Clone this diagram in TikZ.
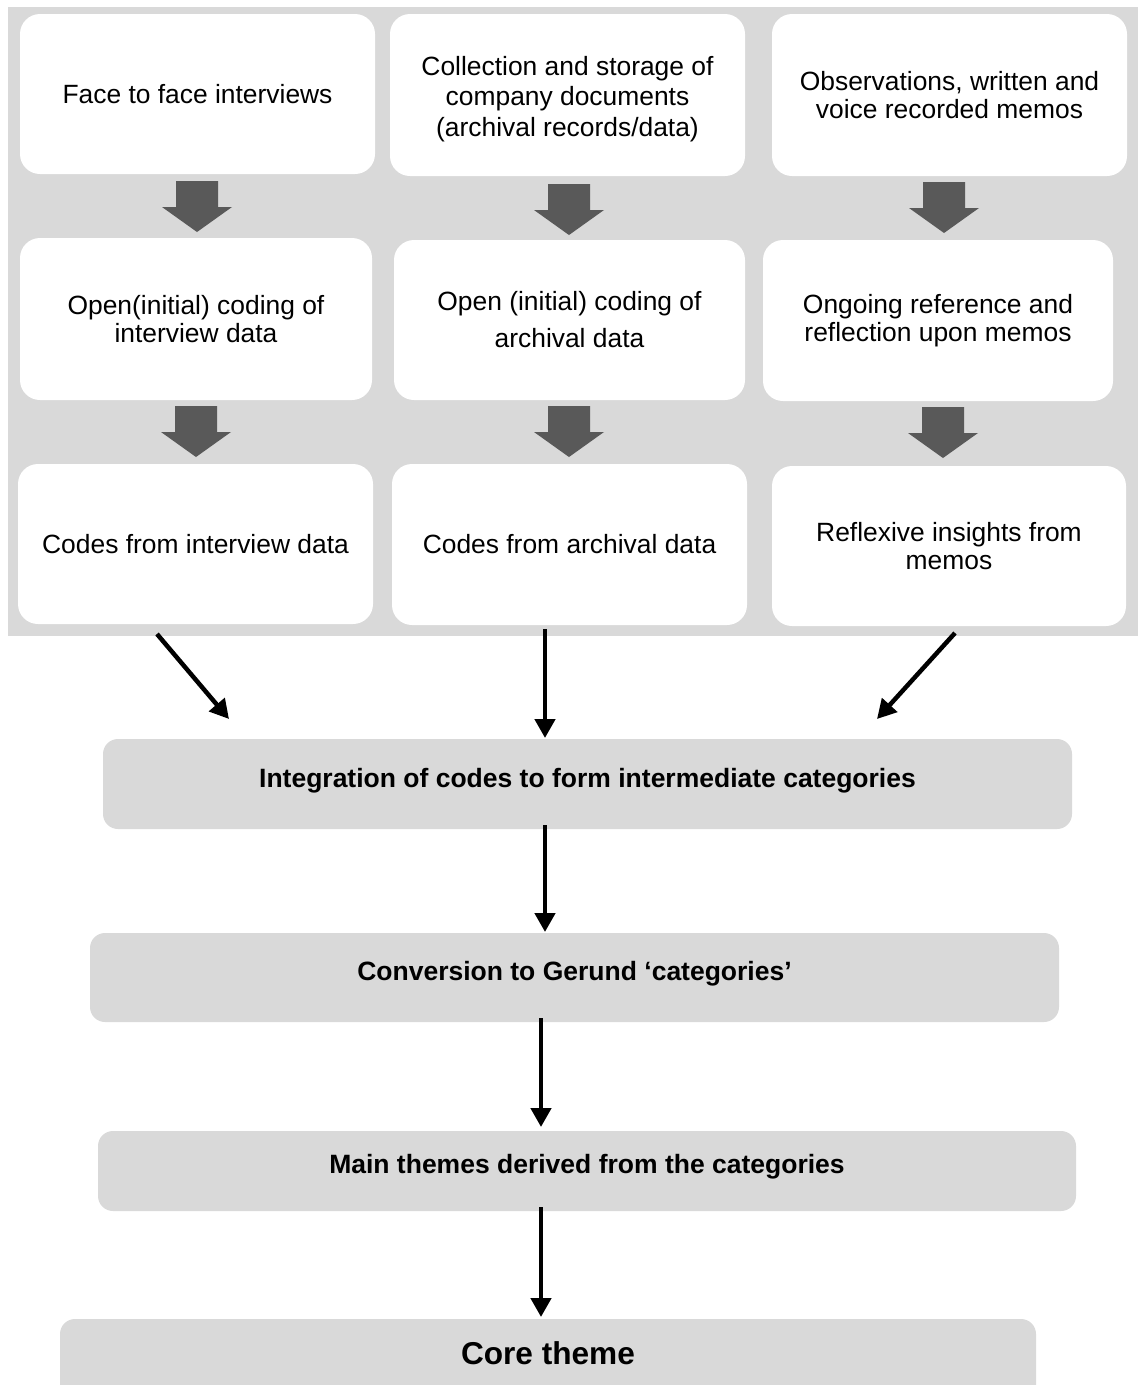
\documentclass[tikz,border=0pt]{standalone}
\usepackage{fontspec}
\setmainfont{Liberation Sans}
\usetikzlibrary{arrows.meta}
\definecolor{panelgray}{HTML}{D9D9D9}
\definecolor{blockgray}{HTML}{595959}
\tikzset{
  whitebox/.style={rectangle, rounded corners=20pt, fill=white, draw=none, inner sep=0pt,
    align=center, font=\fontsize{26.4}{28}\selectfont},
  graybox/.style={rectangle, rounded corners=15pt, fill=panelgray, draw=none, inner sep=0pt,
    align=center, font=\bfseries\fontsize{26.5}{30}\selectfont},
  conn/.style={draw=black, line width=4.5pt, -{Triangle[length=19pt,width=20pt]}},
  blkarrow/.pic={
    \fill[blockgray] (-21,0) -- (21,0) -- (21,26) -- (35,26) -- (0,51) -- (-35,26) -- (-21,26) -- cycle;
  }
}
\begin{document}
\begin{tikzpicture}[x=1pt,y=-1pt]
\useasboundingbox (0,0) rectangle (1138,1385);
% gray panel
\fill[panelgray] (8,7) rectangle (1138,636);

% row 1
\node[whitebox, minimum width=355pt, minimum height=160pt] (a1) at (197.5,94) {Face to face interviews};
\node[whitebox, minimum width=355pt, minimum height=162pt] (b1) at (567.5,95) {\raisebox{0pt}[\dimexpr\height+8pt\relax][\depth]{\shortstack{Collection and storage of\\[3pt]company documents\\[3pt](archival records/data)}}};
\node[whitebox, minimum width=355pt, minimum height=162pt] (c1) at (949.5,95) {Observations, written and\\voice recorded memos};
% row 2
\node[whitebox, minimum width=352pt, minimum height=162pt] (a2) at (196,319) {Open(initial) coding of\\interview data};
\node[whitebox, minimum width=351pt, minimum height=160pt] (b2) at (569.5,320) {Open (initial) coding of\\[9pt]archival data};
\node[whitebox, minimum width=350pt, minimum height=161pt] (c2) at (938,320.5) {Ongoing reference and\\reflection upon memos};
% row 3
\node[whitebox, minimum width=355pt, minimum height=160pt] (a3) at (195.5,544) {Codes from interview data};
\node[whitebox, minimum width=355pt, minimum height=161pt] (b3) at (569.5,544.5) {Codes from archival data};
\node[whitebox, minimum width=354pt, minimum height=160pt] (c3) at (949,546) {Reflexive insights from\\memos};

% block arrows
\pic at (197,181) {blkarrow};
\pic at (569,184) {blkarrow};
\pic at (944,182) {blkarrow};
\pic at (196,406) {blkarrow};
\pic at (569,406) {blkarrow};
\pic at (943,407) {blkarrow};

% lower boxes
\node[graybox, minimum width=969pt, minimum height=90pt] (int) at (587.5,784) {\raisebox{12pt}{Integration of codes to form intermediate categories}};
\node[graybox, minimum width=969pt, minimum height=89pt] (conv) at (574.5,977.5) {\raisebox{14pt}{Conversion to Gerund ‘categories’}};
\node[graybox, minimum width=978pt, minimum height=80pt] (main) at (587,1171) {\raisebox{15pt}{Main themes derived from the categories}};
\node[graybox, minimum width=976pt, minimum height=90pt, font=\bfseries\fontsize{31.6}{34}\selectfont] (core) at (548,1364) {\raisebox{22pt}{Core theme}};

% connectors
\coordinate (s1) at (157,634);
\coordinate (e1) at (229,719);
\coordinate (s2) at (545,629);
\coordinate (e2) at (545,738);
\coordinate (s3) at (955,633);
\coordinate (e3) at (877,719);
\draw[conn] (s1) -- (e1);
\draw[conn] (s2) -- (e2);
\draw[conn] (s3) -- (e3);
\coordinate (s4) at (545,825);
\coordinate (e4) at (545,932);
\draw[conn] (s4) -- (e4);
\coordinate (s5) at (541,1018);
\coordinate (e5) at (541,1127);
\draw[conn] (s5) -- (e5);
\coordinate (s6) at (541,1207);
\coordinate (e6) at (541,1317);
\draw[conn] (s6) -- (e6);
\end{tikzpicture}
\end{document}
